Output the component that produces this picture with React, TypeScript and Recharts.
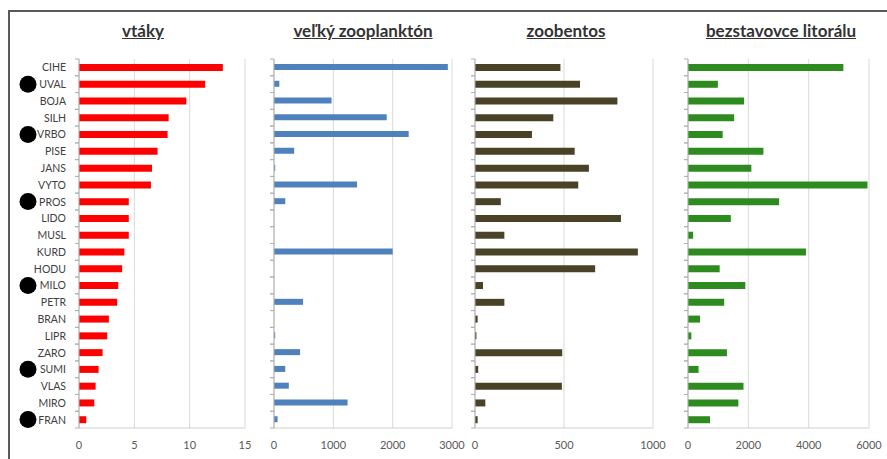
import { BarChart, Bar, XAxis, YAxis, CartesianGrid } from 'recharts'

const sites = [
  'CIHE', 'UVAL', 'BOJA', 'SILH', 'VRBO', 'PISE', 'JANS', 'VYTO', 'PROS', 'LIDO', 'MUSL',
  'KURD', 'HODU', 'MILO', 'PETR', 'BRAN', 'LIPR', 'ZARO', 'SUMI', 'VLAS', 'MIRO', 'FRAN',
]
const markedSites = ['UVAL', 'VRBO', 'PROS', 'MILO', 'SUMI', 'FRAN']

const birds = [13.0, 11.4, 9.7, 8.1, 8.0, 7.1, 6.6, 6.5, 4.5, 4.5, 4.5, 4.1, 3.9, 3.55, 3.45, 2.7, 2.55, 2.13, 1.77, 1.5, 1.38, 0.66]
const zooplankton = [2930, 90, 970, 1900, 2270, 340, 20, 1400, 190, 0, 0, 2000, 0, 0, 490, 0, 20, 440, 190, 250, 1240, 60]
const zoobenthos = [480, 590, 800, 440, 320, 560, 640, 580, 145, 820, 165, 915, 675, 45, 165, 15, 8, 490, 18, 488, 58, 15]
const littoral = [5150, 990, 1860, 1530, 1150, 2500, 2100, 5950, 3020, 1420, 170, 3910, 1050, 1900, 1200, 400, 110, 1290, 350, 1840, 1670, 730]

const birdTicks = [0, 5, 10, 15]
const zooplanktonTicks = [0, 1000, 2000, 3000]
const zoobenthosTicks = [0, 500, 1000]
const littoralTicks = [0, 2000, 4000, 6000]

const data = sites.map((site, i) => ({
  site,
  birds: birds[i],
  zooplankton: zooplankton[i],
  zoobenthos: zoobenthos[i],
  littoral: littoral[i],
}))

const FONT = 'Lato, "Open Sans", sans-serif'
const PLOT_TOP = 59
const PLOT_BOTTOM = 428
const CHART_H = 459
const STEP = (PLOT_BOTTOM - PLOT_TOP) / sites.length

const SiteTick = ({ x, y, payload, withLabels }: any) => (
  <g>
    <line x1={x - 4} x2={x} y1={y - STEP / 2} y2={y - STEP / 2} stroke="#b0b0b0" />
    <line x1={x - 4} x2={x} y1={y + STEP / 2} y2={y + STEP / 2} stroke="#b0b0b0" />
    {withLabels && (
      <text x={x - 13} y={y} dy={4} textAnchor="end" fontSize={10.5} fill="#404040" fontFamily={FONT}>
        {payload.value}
      </text>
    )}
    {withLabels && markedSites.includes(payload.value) && (
      <circle cx={x - 51} cy={y} r={8.5} fill="#000" />
    )}
  </g>
)

interface PanelProps {
  title: string
  titleX: number
  left: number
  width: number
  axisWidth: number
  right: number
  dataKey: string
  color: string
  ticks: number[]
  barSize: number
  withLabels?: boolean
}

const Panel = ({ title, titleX, left, width, axisWidth, right, dataKey, color, ticks, barSize, withLabels }: PanelProps) => (
  <>
    <div
      style={{
        position: 'absolute',
        left: titleX - 120,
        width: 240,
        top: 20,
        textAlign: 'center',
        fontFamily: FONT,
        fontWeight: 700,
        fontSize: 17,
        color: '#333',
        textDecoration: 'underline',
      }}
    >
      {title}
    </div>
    <div style={{ position: 'absolute', left, top: 0 }}>
      <BarChart
        width={width}
        height={CHART_H}
        data={data}
        layout="vertical"
        margin={{ top: PLOT_TOP, right, bottom: 0, left: 0 }}
      >
        <CartesianGrid horizontal={false} stroke="#d9d9d9" />
        <XAxis
          type="number"
          domain={[ticks[0], ticks[ticks.length - 1]]}
          ticks={ticks}
          height={CHART_H - PLOT_BOTTOM}
          axisLine={{ stroke: '#d0d0d0' }}
          tickLine={false}
          tickSize={0}
          tickMargin={13}
          tick={{ fontSize: 11, fill: '#595959', fontFamily: FONT }}
          interval={0}
        />
        <YAxis
          type="category"
          dataKey="site"
          width={axisWidth}
          axisLine={{ stroke: '#b0b0b0' }}
          tickLine={false}
          tickSize={0}
          tickMargin={0}
          interval={0}
          tick={<SiteTick withLabels={withLabels} />}
        />
        <Bar dataKey={dataKey} fill={color} barSize={barSize} isAnimationActive={false} />
      </BarChart>
    </div>
  </>
)

const App = () => (
  <div style={{ position: 'absolute', left: 0, top: 0, width: 887, height: 459, overflow: 'hidden', background: '#fff' }}>
    <div
      style={{
        position: 'absolute',
        left: 8,
        top: 10,
        width: 900,
        height: 480,
        borderLeft: '2px solid #5a5a5a',
        borderTop: '2px solid #5a5a5a',
      }}
    />
    <Panel title="vtáky" titleX={143} left={0} width={262} axisWidth={79} right={17}
      dataKey="birds" color="#ff0000" ticks={birdTicks} barSize={7} withLabels />
    <Panel title="veľký zooplanktón" titleX={363} left={262} width={210} axisWidth={12} right={20}
      dataKey="zooplankton" color="#4f81bd" ticks={zooplanktonTicks} barSize={6} />
    <Panel title="zoobentos" titleX={566} left={463} width={210} axisWidth={12} right={20}
      dataKey="zoobenthos" color="#4a4226" ticks={zoobenthosTicks} barSize={7} />
    <Panel title="bezstavovce litorálu" titleX={781} left={676} width={211} axisWidth={12} right={18}
      dataKey="littoral" color="#2e8b1f" ticks={littoralTicks} barSize={7} />
  </div>
)

export default App
